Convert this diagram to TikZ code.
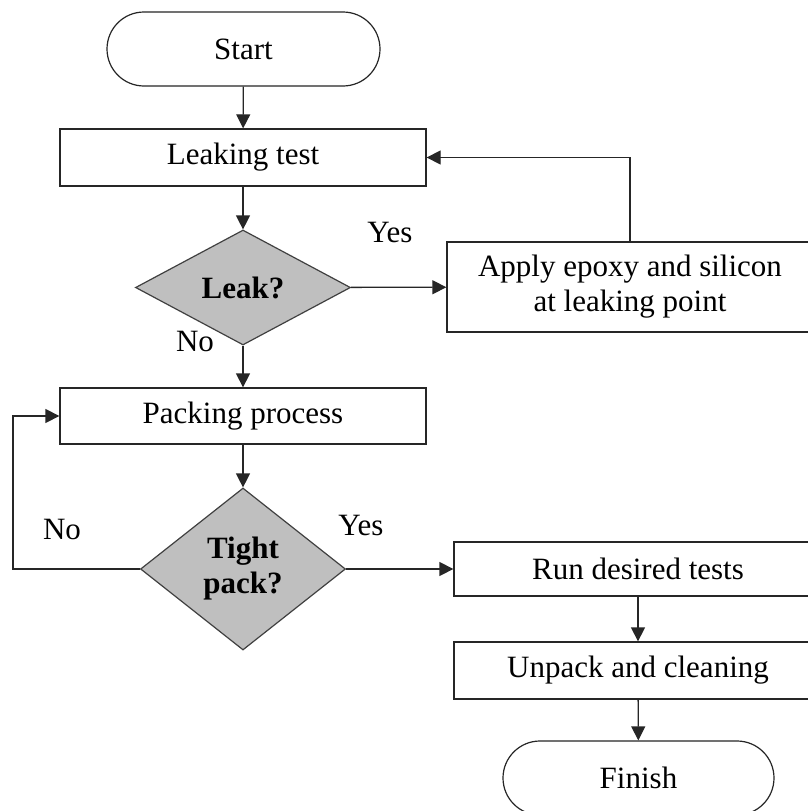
\documentclass[tikz,border=0pt]{standalone}
\usepackage{fontspec}
\setmainfont{Liberation Serif}
\usetikzlibrary{shapes.geometric,shapes.misc,arrows.meta}
\begin{document}
\begin{tikzpicture}[x=1pt,y=-1pt,
  every node/.style={font=\fontsize{31}{35}\selectfont, text=black},
  line/.style={draw=black!85, line width=1.3pt},
  arr/.style={line, -{Triangle[length=14pt,width=14pt]}},
  terminal/.style={rounded rectangle, draw=black!85, line width=1.2pt, inner sep=0pt},
  procbox/.style={rectangle, draw=black!85, line width=1.3pt, inner sep=0pt, align=center},
  decision/.style={diamond, draw=black!75, line width=1.2pt, fill=black!25, inner sep=0pt, align=center, font=\fontsize{31}{35}\selectfont\bfseries},
  lbl/.style={inner sep=0pt}
]
\useasboundingbox (0,0) rectangle (808,811);
\fill[white] (0,0) rectangle (808,811);

\node[terminal, minimum width=273pt, minimum height=74pt] (start) at (243.5,49) {Start};
\node[procbox, minimum width=366pt, minimum height=57pt] (leaktest) at (243,157.5) {Leaking test};
\node[decision, minimum width=215pt, minimum height=115pt] (leak) at (243,287.5) {Leak?};
\node[procbox, minimum width=366pt, minimum height=90pt] (apply) at (630,287) {Apply epoxy and silicon\\at leaking point};
\node[procbox, minimum width=366pt, minimum height=56pt] (packing) at (243,416) {Packing process};
\node[decision, minimum width=205pt, minimum height=162pt] (tight) at (243,569) {Tight\\pack?};
\node[procbox, minimum width=368pt, minimum height=54pt] (run) at (638,569) {Run desired tests};
\node[procbox, minimum width=368pt, minimum height=57pt] (unpack) at (638,670.5) {Unpack and cleaning};
\node[terminal, minimum width=271pt, minimum height=74pt] (finish) at (638.5,778) {Finish};

\coordinate (loopx) at (13,569);

\draw[arr] (start) -- (leaktest);
\draw[arr] (leaktest) -- (leak);
\draw[arr] (leak) -- (apply);
\draw[arr] (apply.north) |- (leaktest.east);
\draw[arr] (leak) -- (packing);
\draw[arr] (packing) -- (tight);
\draw[arr] (tight.west) -- (loopx) |- (packing.west);
\draw[arr] (tight) -- (run);
\draw[arr] (run) -- (unpack);
\draw[arr] (unpack) -- (finish);

\node[lbl] (yes1) at (390,232) {Yes};
\node[lbl] (no1) at (195,341) {No};
\node[lbl] (no2) at (62,529) {No};
\node[lbl] (yes2) at (361,525) {Yes};
\end{tikzpicture}
\end{document}
